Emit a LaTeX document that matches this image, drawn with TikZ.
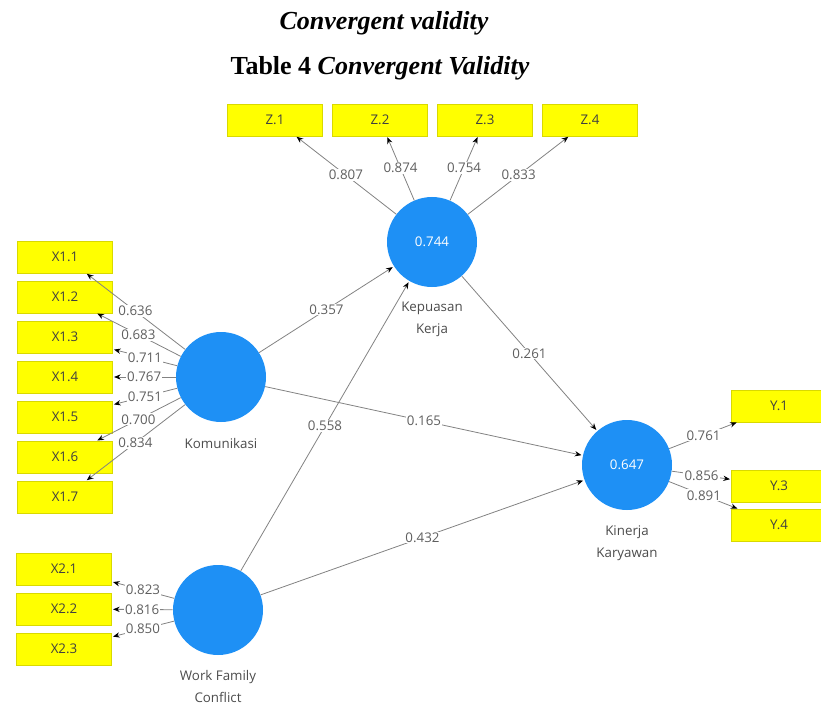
\documentclass[tikz,border=0pt]{standalone}
\usepackage{fontspec}
\setmainfont{Liberation Serif}
\newfontfamily\uifont{Open Sans}
\usetikzlibrary{arrows.meta}
\definecolor{lvblue}{RGB}{30,144,245}
\definecolor{indfill}{RGB}{255,255,0}
\definecolor{edgecol}{RGB}{130,130,130}
\definecolor{lblcol}{RGB}{95,95,95}
\begin{document}
\begin{tikzpicture}[x=0.75pt,y=-0.75pt,
  every node/.style={font=\uifont\fontsize{10}{12}\selectfont},
  indbox/.style={rectangle, fill=indfill, draw=indfill!85!black, line width=0.3pt,
    minimum width=71.25pt, minimum height=23.6pt, inner sep=0pt, text=black!75},
  lv/.style={circle, fill=lvblue, minimum size=67.5pt, inner sep=0pt, text=white},
  lvname/.style={text=black!70, align=center, font=\uifont\fontsize{10}{16.5}\selectfont},
  arr/.style={draw=edgecol, line width=0.6pt, shorten >=1pt,
    -{Stealth[length=5pt,width=4pt,color=black]}},
  coef/.style={fill=white, inner sep=0.8pt, text=lblcol, pos=0.5}
]
\useasboundingbox (0,0) rectangle (821,706);

% titles
\node[font=\fontsize{19.5}{22}\selectfont\bfseries\itshape, anchor=base] (t1) at (384,30) {Convergent validity};
\node[font=\fontsize{19.5}{22}\selectfont\bfseries, anchor=base] (t2) at (380,75) {Table 4 \textit{Convergent Validity}};

% latent variables
\node[lv] (kep) at (432,242) {0.744};
\node[lv] (kom) at (221,377) {};
\node[lv] (wfc) at (218,610) {};
\node[lv] (kin) at (627,465) {0.647};

\node[lvname] (kepn) at (432,319) {Kepuasan\\Kerja};
\node[lvname] (komn) at (221,443) {Komunikasi};
\node[lvname] (wfcn) at (218,686) {Work Family\\Conflict};
\node[lvname] (kinn) at (627,543) {Kinerja\\Karyawan};

% indicators Z
\node[indbox] (z1) at (275,120) {Z.1};
\node[indbox] (z2) at (380,120) {Z.2};
\node[indbox] (z3) at (485,120) {Z.3};
\node[indbox] (z4) at (590,120) {Z.4};

% indicators X1
\node[indbox] (x11) at (65,257) {X1.1};
\node[indbox] (x12) at (65,297) {X1.2};
\node[indbox] (x13) at (65,337) {X1.3};
\node[indbox] (x14) at (65,377) {X1.4};
\node[indbox] (x15) at (65,417) {X1.5};
\node[indbox] (x16) at (65,457) {X1.6};
\node[indbox] (x17) at (65,497) {X1.7};

% indicators X2
\node[indbox] (x21) at (64,569) {X2.1};
\node[indbox] (x22) at (64,609) {X2.2};
\node[indbox] (x23) at (64,649) {X2.3};

% indicators Y
\node[indbox] (y1) at (779,406) {Y.1};
\node[indbox] (y3) at (779,486) {Y.3};
\node[indbox] (y4) at (779,525) {Y.4};

% outer loadings
\draw[arr] (kep) -- node[coef]{0.807} (z1);
\draw[arr] (kep) -- node[coef]{0.874} (z2);
\draw[arr] (kep) -- node[coef]{0.754} (z3);
\draw[arr] (kep) -- node[coef]{0.833} (z4);

\draw[arr] (kom) -- node[coef]{0.636} (x11);
\draw[arr] (kom) -- node[coef]{0.683} (x12);
\draw[arr] (kom) -- node[coef]{0.711} (x13);
\draw[arr] (kom) -- node[coef]{0.767} (x14);
\draw[arr] (kom) -- node[coef]{0.751} (x15);
\draw[arr] (kom) -- node[coef]{0.700} (x16);
\draw[arr] (kom) -- node[coef]{0.834} (x17);

\draw[arr] (wfc) -- node[coef]{0.823} (x21);
\draw[arr] (wfc) -- node[coef]{0.816} (x22);
\draw[arr] (wfc) -- node[coef]{0.850} (x23);

\draw[arr] (kin) -- node[coef]{0.761} (y1);
\draw[arr] (kin) -- node[coef]{0.856} (y3);
\draw[arr] (kin) -- node[coef]{0.891} (y4);

% structural paths
\draw[arr] (kom) -- node[coef]{0.357} (kep);
\draw[arr] (kom) -- node[coef]{0.165} (kin);
\draw[arr] (wfc) -- node[coef]{0.558} (kep);
\draw[arr] (wfc) -- node[coef]{0.432} (kin);
\draw[arr] (kep) -- node[coef]{0.261} (kin);
\end{tikzpicture}
\end{document}
